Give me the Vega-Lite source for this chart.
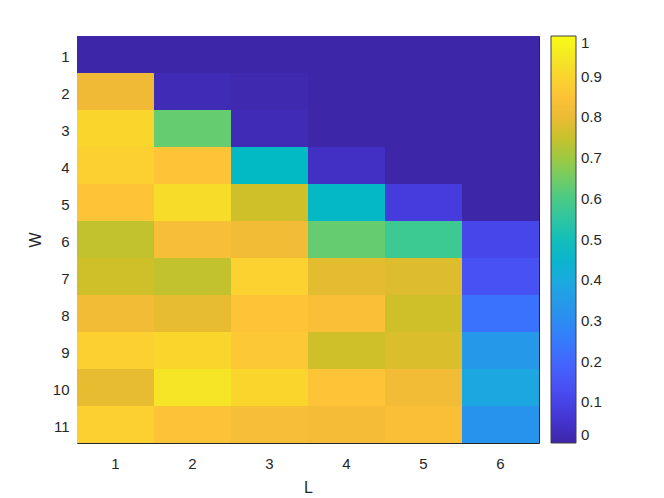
{
  "$schema": "https://vega.github.io/schema/vega-lite/v6.json",
  "autosize": "none",
  "width": 462,
  "height": 407,
  "padding": {"left": 77, "top": 36, "right": 125, "bottom": 55},
  "background": "white",
  "config": {
    "view": {"stroke": null},
    "font": "Liberation Sans",
    "axis": {
      "domainColor": "#262626",
      "domainWidth": 1,
      "tickColor": "#262626",
      "tickWidth": 1,
      "tickSize": -5,
      "labelColor": "#262626",
      "labelFont": "Liberation Sans",
      "labelFontSize": 15,
      "titleFont": "Liberation Sans",
      "titleFontSize": 16,
      "titleFontWeight": "normal",
      "titleColor": "#262626",
      "grid": false,
      "zindex": 1
    },
    "legend": {
      "labelFont": "Liberation Sans",
      "labelFontSize": 15,
      "labelColor": "#262626"
    }
  },
  "data": {
    "values": [
      {"L": 1, "W": 1, "v": 0}, {"L": 2, "W": 1, "v": 0}, {"L": 3, "W": 1, "v": 0}, {"L": 4, "W": 1, "v": 0}, {"L": 5, "W": 1, "v": 0}, {"L": 6, "W": 1, "v": 0},
      {"L": 1, "W": 2, "v": 0.81}, {"L": 2, "W": 2, "v": 0.02}, {"L": 3, "W": 2, "v": 0.01}, {"L": 4, "W": 2, "v": 0}, {"L": 5, "W": 2, "v": 0}, {"L": 6, "W": 2, "v": 0},
      {"L": 1, "W": 3, "v": 0.905}, {"L": 2, "W": 3, "v": 0.635}, {"L": 3, "W": 3, "v": 0.02}, {"L": 4, "W": 3, "v": 0}, {"L": 5, "W": 3, "v": 0}, {"L": 6, "W": 3, "v": 0},
      {"L": 1, "W": 4, "v": 0.89}, {"L": 2, "W": 4, "v": 0.86}, {"L": 3, "W": 4, "v": 0.476}, {"L": 4, "W": 4, "v": 0.04}, {"L": 5, "W": 4, "v": 0}, {"L": 6, "W": 4, "v": 0},
      {"L": 1, "W": 5, "v": 0.86}, {"L": 2, "W": 5, "v": 0.92}, {"L": 3, "W": 5, "v": 0.76}, {"L": 4, "W": 5, "v": 0.47}, {"L": 5, "W": 5, "v": 0.08}, {"L": 6, "W": 5, "v": 0},
      {"L": 1, "W": 6, "v": 0.743}, {"L": 2, "W": 6, "v": 0.835}, {"L": 3, "W": 6, "v": 0.82}, {"L": 4, "W": 6, "v": 0.635}, {"L": 5, "W": 6, "v": 0.58}, {"L": 6, "W": 6, "v": 0.11},
      {"L": 1, "W": 7, "v": 0.76}, {"L": 2, "W": 7, "v": 0.743}, {"L": 3, "W": 7, "v": 0.895}, {"L": 4, "W": 7, "v": 0.79}, {"L": 5, "W": 7, "v": 0.78}, {"L": 6, "W": 7, "v": 0.14},
      {"L": 1, "W": 8, "v": 0.82}, {"L": 2, "W": 8, "v": 0.795}, {"L": 3, "W": 8, "v": 0.86}, {"L": 4, "W": 8, "v": 0.84}, {"L": 5, "W": 8, "v": 0.76}, {"L": 6, "W": 8, "v": 0.23},
      {"L": 1, "W": 9, "v": 0.89}, {"L": 2, "W": 9, "v": 0.905}, {"L": 3, "W": 9, "v": 0.87}, {"L": 4, "W": 9, "v": 0.76}, {"L": 5, "W": 9, "v": 0.775}, {"L": 6, "W": 9, "v": 0.34},
      {"L": 1, "W": 10, "v": 0.795}, {"L": 2, "W": 10, "v": 0.94}, {"L": 3, "W": 10, "v": 0.905}, {"L": 4, "W": 10, "v": 0.86}, {"L": 5, "W": 10, "v": 0.82}, {"L": 6, "W": 10, "v": 0.39},
      {"L": 1, "W": 11, "v": 0.89}, {"L": 2, "W": 11, "v": 0.855}, {"L": 3, "W": 11, "v": 0.835}, {"L": 4, "W": 11, "v": 0.825}, {"L": 5, "W": 11, "v": 0.84}, {"L": 6, "W": 11, "v": 0.325}
    ]
  },
  "resolve": {"axis": {"x": "independent", "y": "independent"}},
  "layer": [
    {
      "mark": {"type": "rect"},
      "encoding": {
        "x": {"field": "L", "type": "ordinal", "title": "L",
              "scale": {"paddingInner": 0, "paddingOuter": 0},
              "axis": {"labelAngle": 0, "labelPadding": 18, "titlePadding": 8}},
        "y": {"field": "W", "type": "ordinal", "title": "W",
              "scale": {"paddingInner": 0, "paddingOuter": 0},
              "axis": {"labelPadding": 13, "titlePadding": 9, "labelOffset": 2}},
        "color": {
          "field": "v", "type": "quantitative",
          "scale": {
            "domain": [0, 1],
            "interpolate": "rgb",
            "range": ["#3e26a8", "#4332cb", "#4741e5", "#4852f4", "#4563fd", "#3875fe", "#2e87f7", "#2796eb", "#20a5e3", "#12b1d6", "#02bac3", "#24c1ae", "#37c897", "#57cc7a", "#81cc59", "#abc739", "#d1bf27", "#f0ba36", "#fec338", "#fad62d", "#f5e924", "#f9fb15"]
          },
          "legend": {
            "type": "gradient",
            "orient": "none",
            "direction": "vertical",
            "legendX": 474,
            "legendY": 0,
            "title": null,
            "gradientLength": 407,
            "gradientThickness": 25,
            "gradientStrokeColor": "#404040",
            "gradientStrokeWidth": 1,
            "values": [0, 0.1, 0.2, 0.3, 0.4, 0.5, 0.6, 0.7, 0.8, 0.9, 1],
            "format": "~g",
            "labelOffset": 5,
            "labelOverlap": false
          }
        }
      }
    },
    {
      "mark": {"type": "rect", "fillOpacity": 0, "strokeOpacity": 0},
      "encoding": {
        "x": {"field": "L", "type": "ordinal", "axis": {"labels": false, "title": null, "orient": "top"}},
        "y": {"field": "W", "type": "ordinal", "axis": {"labels": false, "title": null, "orient": "right"}}
      }
    }
  ]
}
